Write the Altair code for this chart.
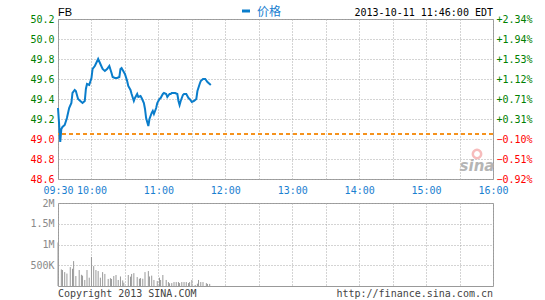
import altair as alt
import pandas as pd

MONO = "DejaVu Sans Mono"

# ---------------- data ----------------
symbol = "FB"
series_name = "价格"
timestamp_text = "2013-10-11 11:46:00 EDT"
copyright_text = "Copyright 2013 SINA.COM"
url_text = "http://finance.sina.com.cn"
logo_text = "sina"

prev_close = 49.05

# minutes after 09:30
price_minutes = [0, 1, 2, 3, 4, 6, 8, 10, 12, 13, 15, 16, 18, 20, 22, 24, 25, 26, 28, 30,
                 31, 33, 36, 38, 40, 42, 44, 46, 48, 49, 51, 53, 55, 56, 57, 59, 60, 62, 63, 65,
                 66, 68, 69, 71, 72, 74, 75, 77, 78, 79, 81, 82, 84, 85, 86, 88, 89, 91, 92, 94,
                 95, 97, 98, 100, 101, 102, 105, 107, 108, 109, 110, 112, 113, 115, 117, 118, 120, 122, 124, 125,
                 127, 128, 130, 132, 134, 136, 137]
price_values = [49.31, 49.15, 48.97, 49.10, 49.12, 49.14, 49.21, 49.31, 49.36, 49.46, 49.49, 49.48, 49.40, 49.38, 49.36, 49.38, 49.50, 49.55, 49.54, 49.61,
                49.70, 49.73, 49.80, 49.75, 49.70, 49.68, 49.70, 49.73, 49.66, 49.62, 49.61, 49.61, 49.62, 49.70, 49.71, 49.67, 49.65, 49.58, 49.53, 49.49,
                49.45, 49.38, 49.41, 49.45, 49.42, 49.43, 49.41, 49.36, 49.30, 49.21, 49.13, 49.20, 49.26, 49.28, 49.25, 49.31, 49.36, 49.40, 49.41, 49.45,
                49.46, 49.45, 49.42, 49.45, 49.45, 49.46, 49.46, 49.45, 49.38, 49.34, 49.38, 49.44, 49.45, 49.45, 49.41, 49.40, 49.37, 49.38, 49.40, 49.48,
                49.55, 49.58, 49.60, 49.60, 49.57, 49.55, 49.54]

volume_minutes = [0, 3, 4, 6, 8, 11, 13, 14, 16, 19, 21, 22, 24, 26, 28, 30, 32, 34, 36, 38,
                  40, 42, 45, 47, 48, 50, 52, 54, 56, 58, 59, 63, 65, 66, 68, 71, 73, 74, 76, 78,
                  81, 82, 84, 86, 89, 91, 92, 94, 97, 99, 100, 102, 104, 106, 108, 109, 111, 113, 115, 117,
                  118, 120, 123, 125, 126, 128, 130, 133, 134, 136]
volume_values = [1050000, 400000, 385000, 335000, 300000, 455000, 415000, 600000, 240000, 385000,
                 270000, 250000, 145000, 385000, 200000, 700000, 480000, 385000, 360000, 200000,
                 335000, 290000, 170000, 190000, 170000, 240000, 265000, 145000, 230000, 135000,
                 80000, 265000, 225000, 290000, 310000, 215000, 175000, 190000, 175000, 335000,
                 360000, 230000, 250000, 145000, 120000, 200000, 145000, 265000, 145000, 95000,
                 65000, 70000, 95000, 95000, 95000, 70000, 95000, 95000, 95000, 70000,
                 95000, 145000, 25000, 55000, 145000, 95000, 95000, 70000, 50000, 50000]

price_ticks = [48.6, 48.8, 49.0, 49.2, 49.4, 49.6, 49.8, 50.0, 50.2]
volume_ticks = [500000, 1000000, 1500000, 2000000]
time_grid = [0, 30, 60, 90, 120, 150, 180, 210, 240, 270, 300, 330, 360, 390]
time_label_minutes = [0, 30, 90, 150, 210, 270, 330, 390]
time_label_texts = ["09:30", "10:00", "11:00", "12:00", "13:00", "14:00", "15:00", "16:00"]

# ---------------- helpers ----------------
label_expr = ""
for m, t in zip(time_label_minutes, time_label_texts):
    label_expr += f"datum.value == {m} ? '{t}' : "
label_expr += "''"

price_df = pd.DataFrame({"m": price_minutes, "price": price_values})
vol_df = pd.DataFrame({"m": volume_minutes, "vol": volume_values})

W = 435
H_MAIN = 160
H_VOL = 83

x_scale = alt.Scale(domain=[0, 390], nice=False, zero=False)
y_scale = alt.Scale(domain=[48.6, 50.2], nice=False, zero=False)

x_axis_main = alt.Axis(values=time_grid, labelExpr=label_expr, title=None, grid=True,
                       labelColor="#1a80d0", labelPadding=6)
color_expr = {"expr": f"datum.value >= {prev_close} ? '#008000' : '#ff0000'"}
y_axis_left = alt.Axis(values=price_ticks, format=".1f", title=None, grid=True,
                       labelColor=color_expr, labelPadding=4)

line = alt.Chart(price_df).mark_line(color="#0a7dcb", strokeWidth=2).encode(
    x=alt.X("m:Q", scale=x_scale, axis=x_axis_main),
    y=alt.Y("price:Q", scale=y_scale, axis=y_axis_left),
)

base_rule = alt.Chart(price_df).mark_rule(color="#f5921e", strokeWidth=1.5, strokeDash=[4, 3]).encode(
    y=alt.YDatum(prev_close, scale=y_scale, axis=y_axis_left)
)

def text_layer(txt, x, y, **kw):
    return alt.Chart(pd.DataFrame({"t": [txt]})).mark_text(**kw).encode(
        text="t:N", x=alt.value(x), y=alt.value(y))

title_t = text_layer(symbol, 0, -3, align="left", baseline="alphabetic", font="Liberation Sans",
                     fontSize=11, color="#000000")
date_t = text_layer(timestamp_text, W, -3, align="right", baseline="alphabetic", font=MONO,
                    fontSize=10, color="#000000")
legend_t = text_layer(series_name, 199, -3, align="left", baseline="alphabetic",
                      font="Noto Sans CJK SC", fontSize=12, color="#1a80d0")
legend_mark = alt.Chart(pd.DataFrame({"a": [0]})).mark_rule(color="#0a7dcb", strokeWidth=3).encode(
    x=alt.value(184), x2=alt.value(192), y=alt.value(-8))
logo_t = text_layer(logo_text, 419, 152, align="center", baseline="alphabetic", font="DejaVu Sans",
                    fontSize=15, fontStyle="italic", fontWeight="bold", color="#b5b5b5")
logo_eye = alt.Chart(pd.DataFrame({"a": [0]})).mark_point(
    shape="circle", size=70, filled=False, stroke="#f4a0a0", strokeWidth=2.5).encode(
    x=alt.value(419), y=alt.value(135))

left = alt.layer(line, base_rule, title_t, date_t, legend_t, legend_mark, logo_eye, logo_t)

right_axis = alt.Chart(price_df).mark_line(opacity=0).encode(
    x=alt.X("m:Q", scale=x_scale, axis=x_axis_main),
    y=alt.Y("price:Q", scale=y_scale,
            axis=alt.Axis(orient="right", values=price_ticks, title=None, grid=False,
                          labelExpr=f"format((datum.value / {prev_close} - 1) * 100, '+.2f') + '%'",
                          labelColor=color_expr, labelPadding=3)),
)

main = alt.layer(left, right_axis).resolve_scale(y="independent").properties(width=W, height=H_MAIN)

vol_bars = alt.Chart(vol_df).mark_rule(color="#999999", strokeWidth=1).encode(
    x=alt.X("m:Q", scale=x_scale,
            axis=alt.Axis(values=time_grid, labels=False, title=None, grid=True)),
    y=alt.Y("vol:Q", scale=alt.Scale(domain=[0, 2000000], nice=False),
            axis=alt.Axis(values=volume_ticks, title=None, grid=True,
                          labelExpr="datum.value >= 1000000 ? format(datum.value / 1000000, '~g') + 'M' : format(datum.value / 1000, '~g') + 'K'",
                          labelColor="#8a8a8a", labelPadding=4)),
    y2=alt.datum(0),
)
copy_t = text_layer(copyright_text, 0, 94, align="left", baseline="alphabetic", font=MONO,
                    fontSize=10, color="#444444")
url_t = text_layer(url_text, W, 94, align="right", baseline="alphabetic", font=MONO,
                   fontSize=10, color="#444444")

vol = alt.layer(vol_bars, copy_t, url_t).properties(width=W, height=H_VOL)

chart = alt.vconcat(main, vol, spacing=24, bounds="flush").properties(
    padding={"left": 29, "top": 5, "right": 5, "bottom": 0},
    background="#ffffff",
).configure_view(stroke="#999999", strokeWidth=1).configure_axis(
    domain=False, ticks=False, labelOverlap=False, labelFlush=False, labelBound=False,
    labelFont=MONO, labelFontSize=10, gridDash=[1, 2], gridColor="#a8a8a8", gridWidth=1,
    gridOpacity=1
)

chart.save("out.html", embed_options={"renderer": "svg", "actions": False})
